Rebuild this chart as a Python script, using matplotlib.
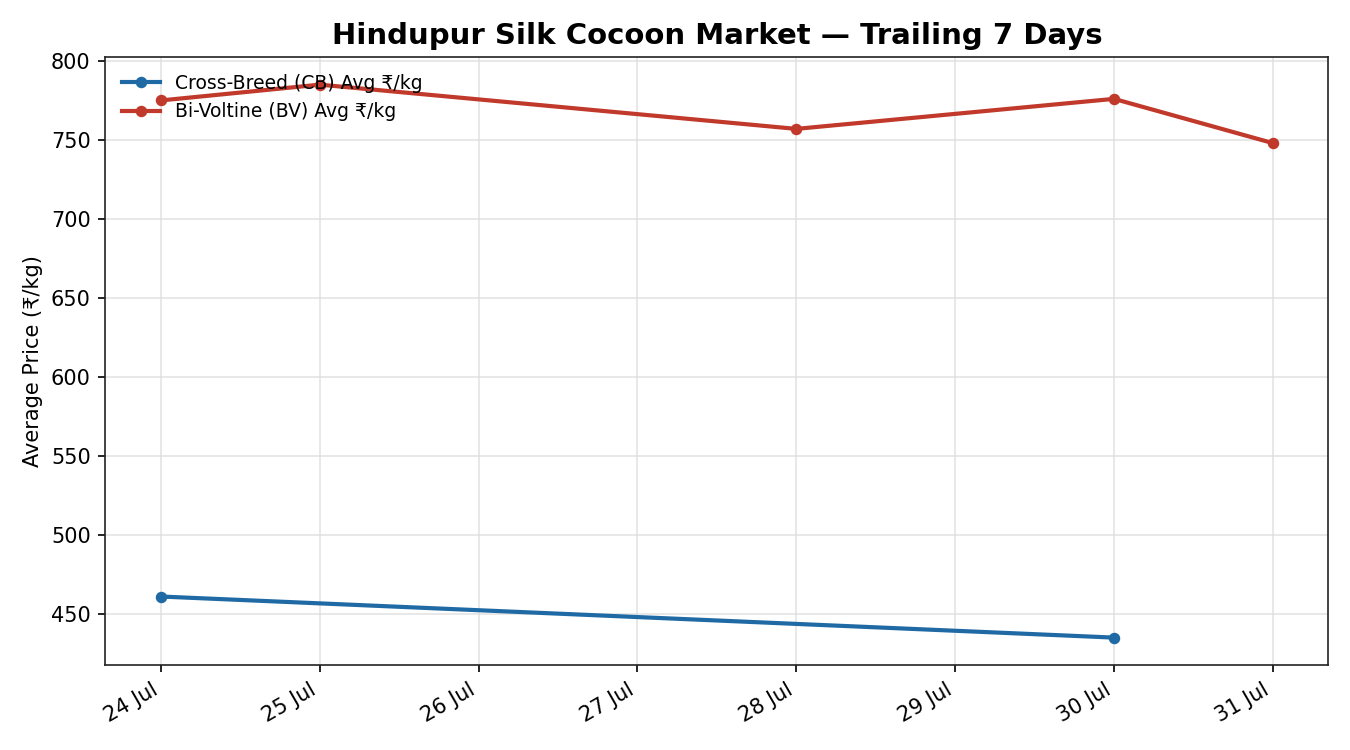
import matplotlib
matplotlib.use("Agg")
import matplotlib.pyplot as plt
import matplotlib.dates as mdates
import numpy as np

# Data
cb_dates = np.array(["2024-07-24", "2024-07-30"], dtype="datetime64[D]")
cb_price = [461, 435]

bv_dates = np.array(["2024-07-24", "2024-07-25", "2024-07-28", "2024-07-30", "2024-07-31"],
                    dtype="datetime64[D]")
bv_price = [775, 785, 757, 776, 748]

fig, ax = plt.subplots(figsize=(9, 5), dpi=150)
fig.subplots_adjust(left=0.078, right=0.984, top=0.924, bottom=0.113)

ax.plot(cb_dates, cb_price, color="#1f6aa5", linewidth=2, marker="o", markersize=4.5,
        label="Cross-Breed (CB) Avg ₹/kg")
ax.plot(bv_dates, bv_price, color="#c0392b", linewidth=2, marker="o", markersize=4.5,
        label="Bi-Voltine (BV) Avg ₹/kg")

ax.set_title("Hindupur Silk Cocoon Market — Trailing 7 Days", fontsize=14, fontweight="bold")
ax.set_ylabel("Average Price (₹/kg)", fontsize=10)
ax.tick_params(labelsize=10)
ax.grid(True, color="#dddddd", alpha=0.8, linewidth=0.8)
ax.xaxis.set_major_locator(mdates.DayLocator())
ax.xaxis.set_major_formatter(mdates.DateFormatter("%d %b"))
plt.setp(ax.get_xticklabels(), rotation=30, ha="right")
for s in ax.spines.values():
    s.set_color("#222222")
ax.legend(loc="upper left", frameon=False, fontsize=9)

fig.savefig("out.png", dpi=150)
